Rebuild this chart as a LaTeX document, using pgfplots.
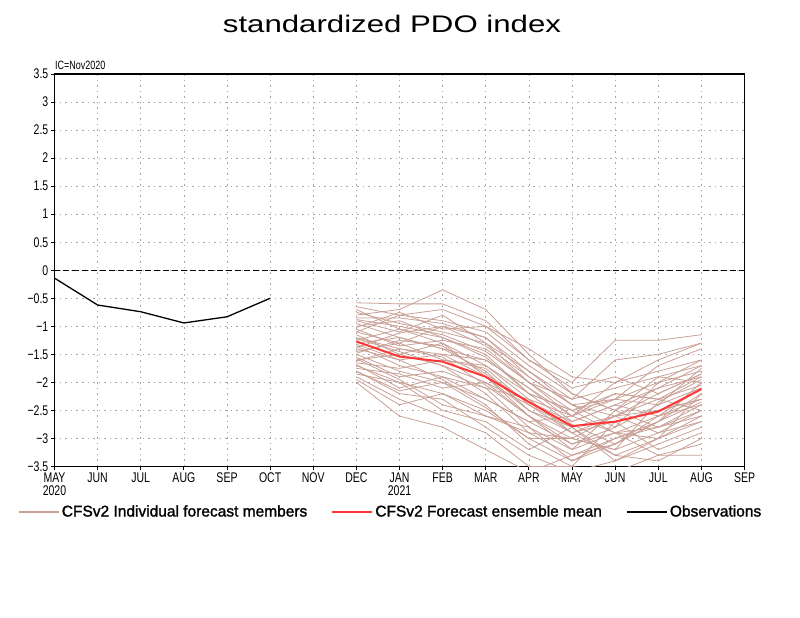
\documentclass[border=0pt]{standalone}
\usepackage{pgfplots}
\pgfplotsset{compat=1.18}
\usepackage{fontspec}
\setmainfont{Liberation Sans}
\newfontfamily\tickfont[FakeStretch=0.75]{Liberation Sans}
\newfontfamily\titlefont[FakeStretch=1.3]{Liberation Sans}
\newfontfamily\legfont[FakeBold=1.5]{Liberation Sans}
\definecolor{member}{RGB}{200,160,150}
\definecolor{meanred}{RGB}{255,55,55}
\begin{document}
\begin{tikzpicture}
\path[use as bounding box] (0pt,0pt) rectangle (800pt,618pt);
\node[font=\titlefont\fontsize{24}{26}\selectfont] at (392pt,594pt) {standardized PDO index};
\node[font=\tickfont\fontsize{12}{12}\selectfont, anchor=south west, inner sep=0pt] at (55pt,548pt) {IC=Nov2020};
\begin{axis}[
  at={(54.5pt,151.5pt)}, anchor=south west,
  width=690pt, height=392.5pt, scale only axis,
  xmin=0, xmax=16, ymin=-3.5, ymax=3.5,
  xtick={0,1,...,16},
  xticklabels={MAY\\2020,JUN,JUL,AUG,SEP,OCT,NOV,DEC,JAN\\2021,FEB,MAR,APR,MAY,JUN,JUL,AUG,SEP},
  ytick={-3.5,-3,-2.5,-2,-1.5,-1,-0.5,0,0.5,1,1.5,2,2.5,3,3.5},
  yticklabels={−3.5,−3,−2.5,−2,−1.5,−1,−0.5,0,0.5,1,1.5,2,2.5,3,3.5},
  xticklabel style={font=\tickfont\fontsize{14}{13.5}\selectfont, align=center, inner sep=2pt},
  yticklabel style={font=\tickfont\fontsize{14}{12}\selectfont, inner sep=2pt},
  xtick pos=bottom, ytick pos=left, tick align=outside,
  major tick length=4pt, tick style={black, line width=0.8pt},
  axis line style={black, line width=1.3pt},
  grid=major, major grid style={gray!70, line width=0.7pt, dash pattern=on 1.5pt off 4pt},
  clip=true,
  legend style={at={(0.487,-0.115)}, anchor=center, draw=none, fill=none,
    font=\legfont\fontsize{15.5}{16}\selectfont, legend columns=3,
    /tikz/every even column/.append style={column sep=22pt},
    /tikz/every odd column/.append style={column sep=0pt}},
  legend image code/.code={\draw[#1, line width=2pt] (0pt,0pt) -- (40pt,0pt);},
]
\addplot[black, line width=0.8pt, dash pattern=on 6pt off 3pt, forget plot] coordinates {(0,0) (16,0)};
% 40 individual members, DEC 2020 (x=7) to AUG 2021 (x=15)
\addplot[member, line width=0.8pt] coordinates {(7,-0.58) (8,-0.60) (9,-0.60) (10,-0.90) (11,-1.60) (12,-2.00) (13,-1.25) (14,-1.25) (15,-1.15)};
\addlegendentry{CFSv2 Individual forecast members}
\addplot[member, line width=0.8pt, forget plot] coordinates {(7,-0.80) (8,-0.70) (9,-0.35) (10,-0.70) (11,-1.50) (12,-2.20) (13,-2.50) (14,-1.90) (15,-1.70)};
\addplot[member, line width=0.8pt, forget plot] coordinates {(7,-0.85) (8,-0.85) (9,-0.95) (10,-1.20) (11,-1.80) (12,-2.30) (13,-1.60) (14,-1.50) (15,-1.30)};
\addplot[member, line width=0.8pt, forget plot] coordinates {(7,-0.90) (8,-1.10) (9,-0.80) (10,-1.30) (11,-2.00) (12,-2.60) (13,-2.00) (14,-1.80) (15,-1.60)};
\addplot[member, line width=0.8pt, forget plot] coordinates {(7,-1.00) (8,-0.90) (9,-1.20) (10,-1.50) (11,-2.20) (12,-2.50) (13,-2.20) (14,-2.30) (15,-1.90)};
\addplot[member, line width=0.8pt, forget plot] coordinates {(7,-1.10) (8,-1.30) (9,-1.00) (10,-1.20) (11,-1.90) (12,-2.40) (13,-2.80) (14,-2.00) (15,-1.80)};
\addplot[member, line width=0.8pt, forget plot] coordinates {(7,-1.20) (8,-1.40) (9,-1.50) (10,-1.60) (11,-2.10) (12,-2.70) (13,-2.40) (14,-2.60) (15,-2.30)};
\addplot[member, line width=0.8pt, forget plot] coordinates {(7,-1.30) (8,-1.20) (9,-1.40) (10,-1.80) (11,-2.50) (12,-2.90) (13,-2.60) (14,-2.20) (15,-1.85)};
\addplot[member, line width=0.8pt, forget plot] coordinates {(7,-1.40) (8,-1.60) (9,-1.50) (10,-1.90) (11,-2.60) (12,-3.00) (13,-3.20) (14,-2.90) (15,-2.50)};
\addplot[member, line width=0.8pt, forget plot] coordinates {(7,-1.50) (8,-1.80) (9,-2.00) (10,-2.30) (11,-2.70) (12,-3.10) (13,-2.90) (14,-3.00) (15,-2.60)};
\addplot[member, line width=0.8pt, forget plot] coordinates {(7,-1.60) (8,-1.50) (9,-1.70) (10,-2.00) (11,-2.40) (12,-2.80) (13,-3.30) (14,-3.40) (15,-3.00)};
\addplot[member, line width=0.8pt, forget plot] coordinates {(7,-1.70) (8,-2.00) (9,-2.20) (10,-2.50) (11,-3.00) (12,-3.40) (13,-3.00) (14,-2.70) (15,-2.20)};
\addplot[member, line width=0.8pt, forget plot] coordinates {(7,-1.80) (8,-2.20) (9,-2.30) (10,-2.80) (11,-3.30) (12,-3.60) (13,-3.40) (14,-3.10) (15,-2.80)};
\addplot[member, line width=0.8pt, forget plot] coordinates {(7,-1.90) (8,-2.30) (9,-2.60) (10,-2.90) (11,-3.50) (12,-3.50) (13,-3.60) (14,-3.30) (15,-3.10)};
\addplot[member, line width=0.8pt, forget plot] coordinates {(7,-2.00) (8,-2.60) (9,-2.80) (10,-3.20) (11,-3.60) (12,-3.30) (13,-3.00) (14,-2.80) (15,-2.40)};
\addplot[member, line width=0.8pt, forget plot] coordinates {(7,-1.05) (8,-1.35) (9,-1.25) (10,-1.40) (11,-2.00) (12,-2.30) (13,-2.10) (14,-1.90) (15,-2.00)};
\addplot[member, line width=0.8pt, forget plot] coordinates {(7,-1.25) (8,-1.05) (9,-1.30) (10,-1.70) (11,-2.30) (12,-2.60) (13,-2.30) (14,-2.40) (15,-2.10)};
\addplot[member, line width=0.8pt, forget plot] coordinates {(7,-1.35) (8,-1.70) (9,-1.90) (10,-2.10) (11,-2.30) (12,-2.90) (13,-2.70) (14,-2.50) (15,-2.30)};
\addplot[member, line width=0.8pt, forget plot] coordinates {(7,-1.45) (8,-1.30) (9,-1.60) (10,-1.70) (11,-2.20) (12,-2.75) (13,-3.10) (14,-2.70) (15,-2.00)};
\addplot[member, line width=0.8pt, forget plot] coordinates {(7,-1.55) (8,-1.90) (9,-1.80) (10,-2.10) (11,-2.80) (12,-3.20) (13,-2.50) (14,-2.10) (15,-1.90)};
\addplot[member, line width=0.8pt, forget plot] coordinates {(7,-0.75) (8,-0.95) (9,-1.10) (10,-1.30) (11,-1.80) (12,-2.40) (13,-2.30) (14,-1.70) (15,-1.40)};
\addplot[member, line width=0.8pt, forget plot] coordinates {(7,-0.95) (8,-1.20) (9,-1.40) (10,-1.60) (11,-2.10) (12,-2.60) (13,-2.20) (14,-2.30) (15,-2.50)};
\addplot[member, line width=0.8pt, forget plot] coordinates {(7,-1.15) (8,-1.50) (9,-1.30) (10,-1.90) (11,-2.50) (12,-2.80) (13,-2.60) (14,-2.90) (15,-2.70)};
\addplot[member, line width=0.8pt, forget plot] coordinates {(7,-1.65) (8,-1.75) (9,-1.60) (10,-1.75) (11,-2.40) (12,-2.90) (13,-3.30) (14,-3.00) (15,-2.20)};
\addplot[member, line width=0.8pt, forget plot] coordinates {(7,-1.75) (8,-1.85) (9,-2.10) (10,-2.00) (11,-2.60) (12,-3.10) (13,-2.80) (14,-2.40) (15,-1.75)};
\addplot[member, line width=0.8pt, forget plot] coordinates {(7,-0.65) (8,-0.80) (9,-0.90) (10,-1.10) (11,-1.70) (12,-2.20) (13,-2.50) (14,-2.80) (15,-2.60)};
\addplot[member, line width=0.8pt, forget plot] coordinates {(7,-0.88) (8,-1.00) (9,-1.15) (10,-1.45) (11,-2.00) (12,-2.50) (13,-2.90) (14,-2.60) (15,-2.40)};
\addplot[member, line width=0.8pt, forget plot] coordinates {(7,-1.02) (8,-0.75) (9,-1.05) (10,-1.00) (11,-1.60) (12,-2.10) (13,-1.90) (14,-2.20) (15,-1.85)};
\addplot[member, line width=0.8pt, forget plot] coordinates {(7,-1.22) (8,-1.45) (9,-1.70) (10,-2.20) (11,-2.90) (12,-3.30) (13,-3.10) (14,-2.60) (15,-2.10)};
\addplot[member, line width=0.8pt, forget plot] coordinates {(7,-1.32) (8,-1.60) (9,-1.95) (10,-2.40) (11,-3.10) (12,-3.50) (13,-2.70) (14,-3.20) (15,-2.90)};
\addplot[member, line width=0.8pt, forget plot] coordinates {(7,-1.48) (8,-1.25) (9,-1.35) (10,-1.85) (11,-2.35) (12,-2.70) (13,-2.40) (14,-2.10) (15,-1.70)};
\addplot[member, line width=0.8pt, forget plot] coordinates {(7,-1.58) (8,-1.95) (9,-2.40) (10,-2.60) (11,-2.90) (12,-3.00) (13,-2.60) (14,-2.50) (15,-2.30)};
\addplot[member, line width=0.8pt, forget plot] coordinates {(7,-1.68) (8,-2.10) (9,-1.90) (10,-2.30) (11,-2.70) (12,-2.60) (13,-2.90) (14,-3.30) (15,-3.30)};
\addplot[member, line width=0.8pt, forget plot] coordinates {(7,-1.85) (8,-2.00) (9,-2.50) (10,-2.70) (11,-3.20) (12,-2.80) (13,-3.40) (14,-3.00) (15,-2.70)};
\addplot[member, line width=0.8pt, forget plot] coordinates {(7,-1.95) (8,-2.40) (9,-2.20) (10,-2.60) (11,-2.80) (12,-3.40) (13,-3.10) (14,-2.70) (15,-2.35)};
\addplot[member, line width=0.8pt, forget plot] coordinates {(7,-1.10) (8,-0.80) (9,-0.70) (10,-1.00) (11,-1.40) (12,-1.90) (13,-2.00) (14,-1.60) (15,-1.30)};
\addplot[member, line width=0.8pt, forget plot] coordinates {(7,-0.70) (8,-1.05) (9,-1.20) (10,-1.55) (11,-2.20) (12,-2.50) (13,-2.30) (14,-2.00) (15,-1.60)};
\addplot[member, line width=0.8pt, forget plot] coordinates {(7,-1.38) (8,-1.12) (9,-1.00) (10,-1.35) (11,-1.90) (12,-2.40) (13,-2.60) (14,-2.30) (15,-2.05)};
\addplot[member, line width=0.8pt, forget plot] coordinates {(7,-1.62) (8,-1.40) (9,-1.55) (10,-2.05) (11,-2.60) (12,-3.20) (13,-2.90) (14,-2.80) (15,-2.50)};
\addplot[member, line width=0.8pt, forget plot] coordinates {(7,-1.80) (8,-2.15) (9,-2.00) (10,-2.45) (11,-3.00) (12,-3.00) (13,-3.20) (14,-2.35) (15,-1.95)};
% ensemble mean
\addplot[meanred, line width=2pt] coordinates {(7,-1.27) (8,-1.54) (9,-1.63) (10,-1.90) (11,-2.35) (12,-2.78) (13,-2.70) (14,-2.52) (15,-2.12)};
\addlegendentry{CFSv2 Forecast ensemble mean}
% observations
\addplot[black, line width=1.3pt] coordinates {(0,-0.14) (1,-0.62) (2,-0.74) (3,-0.94) (4,-0.83) (5,-0.50)};
\addlegendentry{Observations}
\end{axis}
\end{tikzpicture}
\end{document}
